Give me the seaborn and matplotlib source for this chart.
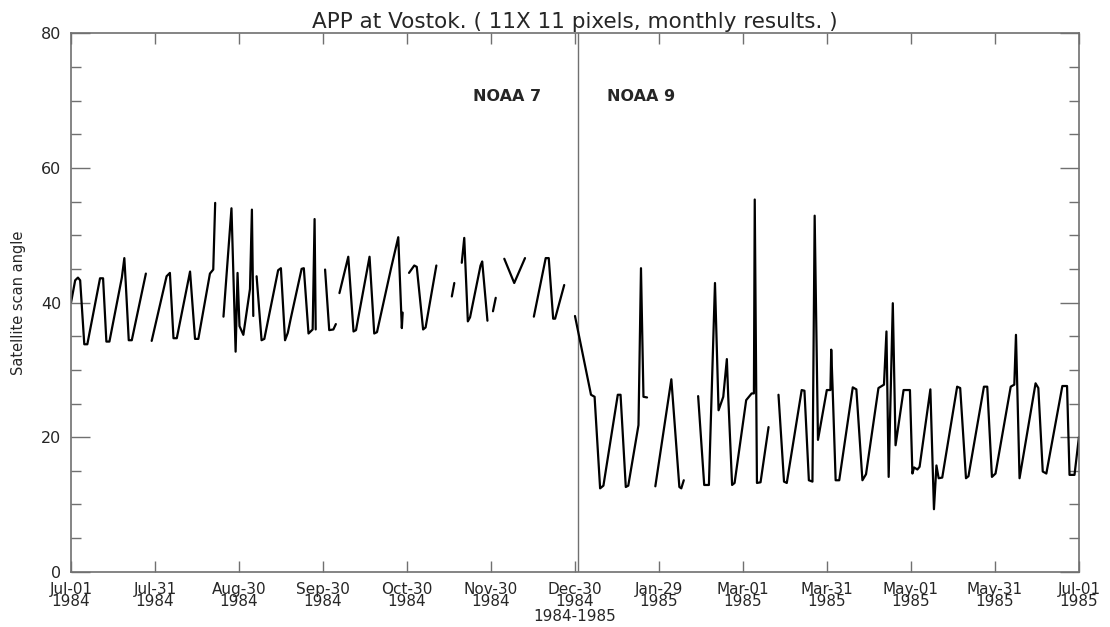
import numpy as np
import pandas as pd
import matplotlib
matplotlib.use("Agg")
import matplotlib.pyplot as plt
import seaborn as sns
from matplotlib.ticker import MultipleLocator

nan = np.nan

# Days since 1984-07-01 and satellite scan angle; nan marks a gap in the record
days = [
    0.0, 1.5, 2.5, 3.3, 4.8, 5.9, 10.5, 11.6, 12.8, 13.9, 18.4, 19.3, 19.8, 20.9, 22.0, 27.1, nan,
    29.2, 34.6, 35.8, 37.1, 38.3, 43.1, 44.9, 46.1, 50.3, 51.5, 52.2, nan,
    55.2, 58.1, 59.6, 60.3, 61.0, 62.4, 64.8, 65.5, 66.0, nan,
    67.2, 69.0, 70.0, 75.0, 76.0, 77.5, 78.5, 79.5, 83.5, 84.3, 86.0, 87.5, 88.2, 88.6, nan,
    92.0, 93.5, 95.0, 95.9, nan,
    97.2, 100.4, 102.3, 103.2, 108.1, 109.8, 110.8, 115.9, 118.5, 119.8, 120.1, nan,
    122.4, 124.3, 125.2, 127.5, 128.4, 132.3, nan,
    137.9, 138.8, nan,
    141.5, 142.4, 143.7, 144.5, 148.3, 148.9, 150.8, nan,
    152.8, 153.8, nan,
    156.9, 160.5, 164.4, nan,
    167.6, 171.9, 173.0, 174.6, 175.3, 178.6, nan,
    182.5, 188.3, 189.6, 191.6, 192.8, 198.0, 199.0, 200.9, 201.8, 205.5, 206.4, 207.3, 208.6, nan,
    211.6, 217.4, 220.3, 221.0, 221.9, nan,
    227.1, 229.3, 231.0, 233.2, 234.5, 236.2, 237.5, 238.0, 239.4, 240.3, 244.5, 246.5, 247.3,
    247.6, 248.4, 249.7, 252.6, nan,
    256.2, 258.2, 259.2, 264.6, 265.6, 267.2, 268.5, 269.3, 270.5, 273.7, 275.0, 275.3, 275.8,
    276.9, 278.2, 283.1, 284.4, 286.6, 287.9, 292.4, 294.4, 295.3, 296.1, 297.6, 298.6, 301.5,
    303.8, 304.7, 305.3, 306.5, 307.3, 311.2, 312.5, 313.4, 314.2, 315.5, 320.9, 322.0, 324.1,
    325.0, 330.6, 331.8, 333.5, 334.8, 340.3, 341.6, 342.2, 343.5, 349.3, 350.3, 351.9, 353.2,
    359.0, 360.7, 361.6, 363.4, 365.0,
]
angles = [
    40.0, 43.3, 43.7, 43.3, 33.8, 33.8, 43.6, 43.6, 34.2, 34.2, 43.7, 46.6, 43.0, 34.4, 34.4, 44.3, nan,
    34.3, 43.9, 44.4, 34.7, 34.7, 44.6, 34.6, 34.6, 44.3, 44.9, 54.8, nan,
    37.9, 54.0, 32.7, 44.4, 36.5, 35.2, 42.0, 53.8, 38.0, nan,
    43.9, 34.4, 34.6, 44.8, 45.1, 34.4, 35.5, 37.5, 45.0, 45.1, 35.4, 36.0, 52.4, 36.0, nan,
    44.9, 35.9, 36.0, 36.8, nan,
    41.4, 46.8, 35.7, 35.9, 46.8, 35.4, 35.6, 45.1, 49.7, 36.2, 38.5, nan,
    44.4, 45.5, 45.3, 36.0, 36.3, 45.5, nan,
    40.9, 42.9, nan,
    45.9, 49.6, 37.2, 37.8, 45.5, 46.1, 37.3, nan,
    38.7, 40.7, nan,
    46.5, 42.9, 46.6, nan,
    37.9, 46.6, 46.6, 37.6, 37.6, 42.6, nan,
    38.0, 26.3, 26.0, 12.4, 12.8, 26.3, 26.3, 12.6, 12.8, 21.8, 45.1, 26.0, 25.9, nan,
    12.7, 28.6, 12.6, 12.4, 13.6, nan,
    26.1, 12.9, 12.9, 42.9, 24.0, 26.0, 31.6, 26.0, 12.9, 13.2, 25.5, 26.5, 26.5,
    55.3, 13.2, 13.3, 21.5, nan,
    26.3, 13.4, 13.2, 27.0, 26.9, 13.6, 13.4, 52.9, 19.6, 27.0, 27.0, 33.0, 27.3,
    13.6, 13.6, 27.4, 27.1, 13.6, 14.5, 27.3, 27.8, 35.7, 14.1, 39.9, 18.8, 27.0,
    27.0, 14.6, 15.5, 15.2, 15.6, 27.1, 9.3, 15.8, 13.9, 14.0, 27.5, 27.3, 13.9,
    14.2, 27.5, 27.5, 14.1, 14.6, 27.5, 27.8, 35.2, 13.9, 28.0, 27.3, 14.9, 14.6,
    27.6, 27.6, 14.4, 14.4, 20.0,
]

tick_days = np.linspace(0, 365, 13)
tick_labels = ["Jul-01\n1984", "Jul-31\n1984", "Aug-30\n1984", "Sep-30\n1984",
               "Oct-30\n1984", "Nov-30\n1984", "Dec-30\n1984", "Jan-29\n1985",
               "Mar-01\n1985", "Mar-31\n1985", "May-01\n1985", "May-31\n1985",
               "Jul-01\n1985"]
switch_day = 183.6
sat_labels = ["NOAA 7", "NOAA 9"]
sat_label_days = [145.6, 194.1]

df = pd.DataFrame({"day": days, "angle": angles})
df["seg"] = df["angle"].isna().cumsum()
df = df.dropna()

sns.set_style("white")
plt.rcParams["font.family"] = ["DejaVu Sans"]

fig, ax = plt.subplots(figsize=(11.1, 6.27), dpi=100)
fig.subplots_adjust(left=0.064, right=0.972, bottom=0.088, top=0.947)

sns.lineplot(data=df, x="day", y="angle", units="seg", estimator=None, sort=False,
             color="black", lw=1.6, ax=ax, legend=False)

axis_col = "#707070"
ax.axvline(switch_day, color=axis_col, lw=1.0, zorder=1)

ax.set_xlim(0, 365)
ax.set_ylim(0, 80)
ax.set_xticks(tick_days)
ax.set_xticklabels(tick_labels, fontsize=11, linespacing=0.8)
ax.set_yticks([0, 20, 40, 60, 80])
ax.yaxis.set_minor_locator(MultipleLocator(5))
ax.tick_params(axis="y", which="major", direction="in", length=14, width=1.0,
               color=axis_col, left=True, right=True, labelsize=11.5, pad=7)
ax.tick_params(axis="y", which="minor", direction="in", length=7.5, width=1.0,
               color=axis_col, left=True, right=True)
ax.tick_params(axis="x", which="major", direction="in", length=8, width=1.0,
               color=axis_col, bottom=True, top=True, pad=7)
for t in ax.get_yticklabels():
    t.set_verticalalignment("center_baseline")

for s in ax.spines.values():
    s.set_color(axis_col)
    s.set_linewidth(1.2)

ax.set_title("APP at Vostok. ( 11X 11 pixels, monthly results. )", fontsize=15.5, pad=4)
ax.set_xlabel("1984-1985", fontsize=11, labelpad=0)
ax.set_ylabel("Satellite scan angle", fontsize=10.5)
ax.yaxis.set_label_coords(-0.045, 0.5)

for lab, d in zip(sat_labels, sat_label_days):
    ax.text(d, 69.9, lab, fontsize=11.5, fontweight="bold", ha="left", va="baseline")

fig.savefig("out.png", dpi=100)
